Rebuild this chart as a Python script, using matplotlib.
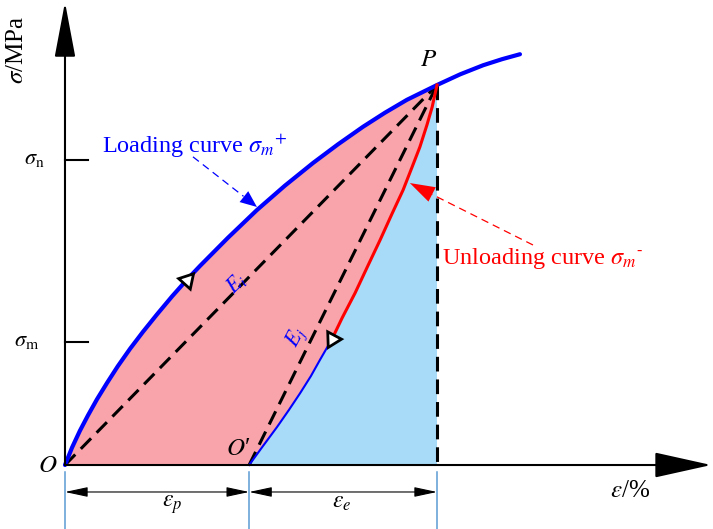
import numpy as np
import matplotlib.pyplot as plt

plt.rcParams['font.family'] = ['Liberation Serif', 'DejaVu Serif']
plt.rcParams['mathtext.fontset'] = 'stix'

# loading curve (strain, stress), normalised so that P = (1, 1)
loading_eps = [0, 0.019, 0.040, 0.062, 0.086, 0.113, 0.142, 0.175, 0.210, 0.247, 0.288, 0.328,
               0.363, 0.438, 0.516, 0.591, 0.667, 0.734, 0.801, 0.860, 0.919, 1.0,
               1.062, 1.124, 1.175, 1.223]
loading_sig = [0, 0.046, 0.090, 0.131, 0.173, 0.216, 0.260, 0.306, 0.351, 0.396, 0.444, 0.488,
               0.524, 0.598, 0.671, 0.735, 0.795, 0.844, 0.890, 0.927, 0.961, 1.0,
               1.028, 1.052, 1.068, 1.081]
i_P = 21          # index of point P on the loading curve
i_load_mark = 11  # open triangle on loading curve

# unloading curve from O' up to P
unloading_eps = [0.495, 0.530, 0.570, 0.602, 0.632, 0.661, 0.685, 0.718, 0.745, 0.780,
                 0.815, 0.847, 0.879, 0.909, 0.933, 0.954, 0.973, 0.987, 1.0]
unloading_sig = [0, 0.047, 0.100, 0.145, 0.189, 0.234, 0.276, 0.332, 0.387, 0.453,
                 0.526, 0.592, 0.661, 0.724, 0.784, 0.837, 0.895, 0.942, 1.0]
i_unload_mark = 7  # red part starts here

eps_O2 = unloading_eps[0]
eps_P, sig_P = loading_eps[i_P], loading_sig[i_P]
tick_vals = [0.803, 0.324]
tick_labels = [r'$\sigma_{\rm n}$', r'$\sigma_{\rm m}$']

pink = '#F9A3AA'
lightblue = '#A7DBF8'
guide = '#5B9BD5'

fig = plt.figure(figsize=(7.13, 5.29), dpi=100)
ax = fig.add_axes([0, 0, 1, 1])
ax.set_xlim(-0.1747, 1.7419)
ax.set_ylim(-0.1684, 1.2237)
ax.axis('off')

# filled regions
le = np.array(loading_eps[:i_P + 1]); ls_ = np.array(loading_sig[:i_P + 1])
ue = np.array(unloading_eps); us = np.array(unloading_sig)
ax.fill(np.concatenate([le, ue[::-1]]), np.concatenate([ls_, us[::-1]]),
        color=pink, lw=0, zorder=1)
ax.fill(np.concatenate([ue, [eps_P]]), np.concatenate([us, [0]]),
        color=lightblue, lw=0, zorder=1)

# secant lines and vertical line at P
dash = (0, (4.8, 2.6))
ax.plot([0, eps_P], [0, sig_P], color='k', lw=2.2, ls=dash, zorder=3)
ax.plot([eps_O2, eps_P], [0, sig_P], color='k', lw=2.2, ls=dash, zorder=3)
ax.plot([eps_P, eps_P], [sig_P, 0], color='k', lw=2.2, ls=dash, zorder=3)

# curves
ax.plot(loading_eps, loading_sig, color='#0000FF', lw=3, zorder=4, solid_capstyle='round')
ax.plot(unloading_eps[:i_unload_mark + 1], unloading_sig[:i_unload_mark + 1],
        color='#0000FF', lw=1.5, zorder=4)
ax.plot(unloading_eps[i_unload_mark:], unloading_sig[i_unload_mark:],
        color='#FF0000', lw=2.2, zorder=4)

# open triangles showing direction
ax.plot(loading_eps[i_load_mark], loading_sig[i_load_mark], marker=(3, 0, -42), ms=13,
        mfc='white', mec='k', mew=2, zorder=6)
ax.plot(unloading_eps[i_unload_mark], unloading_sig[i_unload_mark], marker=(3, 0, 152), ms=13,
        mfc='white', mec='k', mew=2, zorder=6)

# axes with arrows
ax.annotate('', xy=(0, 1.218), xytext=(0, 0), zorder=5,
            arrowprops=dict(arrowstyle='-|>,head_length=3.45,head_width=0.65', mutation_scale=10,
                            lw=1.5, color='k', shrinkA=0, shrinkB=0))
ax.annotate('', xy=(1.737, 0), xytext=(0, 0), zorder=5,
            arrowprops=dict(arrowstyle='-|>,head_length=3.6,head_width=0.8', mutation_scale=10,
                            lw=1.5, color='k', shrinkA=0, shrinkB=0))
for v, lab, xt in zip(tick_vals, tick_labels, [-0.083, -0.102]):
    ax.plot([0, 0.062], [v, v], color='k', lw=1.5, zorder=5)
    ax.text(xt, v, lab, fontsize=16, ha='center', va='center')

ax.text(-0.130, 1.092, r'$\sigma$/MPa', fontsize=18, rotation=90, ha='center', va='center')
ax.text(1.519, -0.068, r'$\varepsilon$/%', fontsize=18, ha='center', va='center')
ax.text(-0.046, -0.003, r'$O$', fontsize=18, ha='center', va='center')
ax.text(0.465, 0.042, '$O$\u2032', fontsize=18, ha='center', va='center')
ax.text(0.976, 1.066, r'$P$', fontsize=18, ha='center', va='center')
ax.text(0.460, 0.479, r'$E_i$', fontsize=15.5, color='#0000FF', rotation=45,
        ha='center', va='center', zorder=7)
ax.text(0.624, 0.334, r'$E_j$', fontsize=15.5, color='#0000FF', rotation=62,
        ha='center', va='center', zorder=7)

# labels with pointers
ax.text(0.0995, 0.821, r'Loading curve $\sigma_m$$^{+}$', fontsize=17.5, color='#0000FF',
        ha='left', va='baseline')
ax.plot([0.344, 0.480], [0.811, 0.707], color='#0000FF', lw=0.9, ls=(0, (6, 4)))
ax.annotate('', xy=(0.516, 0.679), xytext=(0.480, 0.707), zorder=6,
            arrowprops=dict(arrowstyle='-|>,head_length=1.2,head_width=0.5', mutation_scale=10,
                            lw=0, color='#0000FF', shrinkA=0, shrinkB=0))
ax.text(1.013, 0.529, 'Unloading curve $\\sigma_m$$^{\u2010}$', fontsize=17.5, color='#FF0000',
        ha='left', va='baseline')
ax.plot([1.258, 0.987], [0.579, 0.712], color='#FF0000', lw=0.9, ls=(0, (6, 4)))
ax.annotate('', xy=(0.927, 0.742), xytext=(0.987, 0.712), zorder=6,
            arrowprops=dict(arrowstyle='-|>,head_length=1.8,head_width=0.58', mutation_scale=10,
                            lw=0, color='#FF0000', shrinkA=0, shrinkB=0))

# strain split dimension lines
for x in [0, eps_O2, eps_P]:
    ax.plot([x, x], [-0.018, -0.1684], color=guide, lw=1.1)
for a, b in [(0, eps_O2), (eps_O2, eps_P)]:
    ax.annotate('', xy=(b, -0.071), xytext=(a, -0.071),
                arrowprops=dict(arrowstyle='<|-|>,head_length=1.4,head_width=0.3', mutation_scale=10,
                                lw=0.8, color='k', shrinkA=0, shrinkB=0))
ax.text(0.288, -0.105, r'$\varepsilon_p$', fontsize=17, ha='center', va='center')
ax.text(0.745, -0.098, r'$\varepsilon_e$', fontsize=17, ha='center', va='center')

fig.savefig('out.png', dpi=100)
